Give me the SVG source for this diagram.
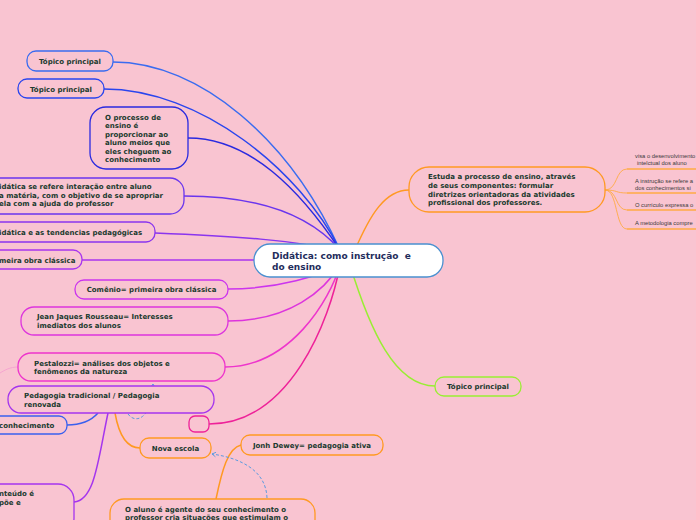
<svg xmlns="http://www.w3.org/2000/svg" width="696" height="520" viewBox="0 0 696 520">
<defs>
<marker id="arr" viewBox="0 0 8 8" refX="6" refY="4" markerWidth="6" markerHeight="6" orient="auto-start-reverse" markerUnits="userSpaceOnUse"><path d="M1,1 L6,4 L1,7" fill="none" stroke="#5a9ae0" stroke-width="1.2"/></marker>
</defs>
<style>
.bg{fill:#f9c4d1}
.n{fill:#f9c4d1;stroke-width:1.3}
.t{font-family:"DejaVu Sans",Verdana,sans-serif;font-weight:bold;font-size:7px;fill:#203a2e}
.c{text-anchor:middle}
.s{font-family:"Liberation Sans",Arial,sans-serif;font-size:5.8px;fill:#3a3a3a}
.l{fill:none;stroke-width:1.5}
.tl{fill:none;stroke-width:0.9}
.d{fill:none;stroke:#5a9ae0;stroke-width:1;stroke-dasharray:3 2}
</style>
<rect class="bg" x="0" y="0" width="696" height="520"/>
<g id="connectors">
<path class="l" stroke="#3a6cf0" d="M113,62 C200,62 290,140 340,250"/>
<path class="l" stroke="#2a45ee" d="M104,89 C200,89 300,170 340,250"/>
<path class="l" stroke="#2a2ae0" d="M188,138 C250,138 300,190 340,250"/>
<path class="l" stroke="#6a35ee" d="M184,196 C260,196 310,215 340,250"/>
<path class="l" stroke="#8a35ee" d="M155,233 C230,236 300,240 340,252"/>
<path class="l" stroke="#a835ee" d="M82,260 L260,260"/>
<path class="l" stroke="#cc35ee" d="M228,289 C280,289 320,275 340,265"/>
<path class="l" stroke="#dd35dd" d="M228,321 C290,321 325,290 340,265"/>
<path class="l" stroke="#ee35cc" d="M225,367 C290,367 330,300 340,265"/>
<path class="l" stroke="#ee2299" d="M209,424 C290,424 330,320 340,265"/>
<path class="l" stroke="#ff9922" d="M355,250 C370,215 385,190 409,190"/>
<path class="l" stroke="#99ee33" d="M350,265 C370,330 395,386 435,386"/>
<path class="tl" stroke="#ffaa44" d="M605,190 C618,190 615,169 627,169"/>
<path class="tl" stroke="#ffaa44" d="M605,190 C618,190 615,193 627,193"/>
<path class="tl" stroke="#ffaa44" d="M605,190 C618,190 615,210 627,210"/>
<path class="tl" stroke="#ffaa44" d="M605,190 C618,190 615,229 627,229"/>
<path class="l" stroke="#ffaa44" stroke-width="1.2" d="M627,169 H696 M627,193 H696 M627,210 H696 M627,229 H696"/>
<path class="tl" stroke="#f5a0d0" d="M18,367 C10,367 5,370 0,373"/>
<path class="l" stroke="#a535ee" d="M108,413 C98,460 95,500 74,502"/>
<path class="l" stroke="#3a60ee" d="M98,413 C90,422 80,425 67,425"/>
<path class="l" stroke="#ff9922" stroke-width="1.2" d="M115,413 C118,430 125,448 140,448"/>
<path class="l" stroke="#ff9922" stroke-width="1.2" d="M216,499 C222,470 228,448 241,445"/>
<path class="d" d="M128,414 C135,424 152,420 153,384" marker-end="url(#arr)"/>
<path class="d" d="M267,498 C266,470 240,458 212,454" marker-end="url(#arr)"/>
</g>
<g id="central">
<rect x="254" y="244" width="189" height="33" rx="16" fill="#fff" stroke="#4a90d0" stroke-width="1.3"/>
<text x="272" y="259" font-family="DejaVu Sans,Verdana,sans-serif" font-weight="bold" font-size="9" fill="#1f2d5c" style="white-space:pre">Didática: como instrução  e</text>
<text x="272" y="270" font-family="DejaVu Sans,Verdana,sans-serif" font-weight="bold" font-size="9" fill="#1f2d5c">do ensino</text>
</g>
<g id="n1"><rect class="n" x="27" y="51" width="86" height="20" rx="9" stroke="#3a6cf0"/><text class="t c" x="70" y="64">Tópico principal</text></g>
<g id="n2"><rect class="n" x="18" y="79" width="86" height="19" rx="9" stroke="#2a45ee"/><text class="t c" x="61" y="91.5">Tópico principal</text></g>
<g id="n3"><rect class="n" x="90" y="107" width="98" height="62" rx="16" stroke="#2a2ae0"/>
<text class="t" x="105" y="120">O processo de</text><text class="t" x="105" y="128.4">ensino é</text><text class="t" x="105" y="136.8">proporcionar ao</text><text class="t" x="105" y="145.2">aluno meios que</text><text class="t" x="105" y="153.6">eles cheguem ao</text><text class="t" x="105" y="162">conhecimento</text></g>
<g id="n4"><rect class="n" x="-20" y="178" width="204" height="36" rx="14" stroke="#6a35ee"/>
<text class="t" x="-1" y="189">idática se refere interação entre aluno</text><text class="t" x="-1" y="197.5">a matéria, com o objetivo de se apropriar</text><text class="t" x="-1" y="206">ela com a ajuda do professor</text></g>
<g id="n5"><rect class="n" x="-20" y="222" width="175" height="20" rx="9" stroke="#8a35ee"/><text class="t" x="-1" y="234.5">idática e as tendencias pedagógicas</text></g>
<g id="n6"><rect class="n" x="-20" y="250" width="102" height="19" rx="9" stroke="#a835ee"/><text class="t" x="-1" y="262.5">meira obra clássica</text></g>
<g id="n7"><rect class="n" x="75" y="280" width="153" height="19" rx="9" stroke="#cc35ee"/><text class="t c" x="151.5" y="292">Comênio= primeira obra clássica</text></g>
<g id="n8"><rect class="n" x="21" y="307" width="207" height="28" rx="13" stroke="#dd35dd"/>
<text class="t" x="37" y="319">Jean Jaques Rousseau= Interesses</text><text class="t" x="37" y="327.5">imediatos dos alunos</text></g>
<g id="n9"><rect class="n" x="18" y="353" width="207" height="28" rx="13" stroke="#ee35cc"/>
<text class="t" x="34" y="365.5">Pestalozzi= análises dos objetos e</text><text class="t" x="34" y="374">fenômenos da natureza</text></g>
<g id="n10"><rect class="n" x="8" y="386" width="206" height="27" rx="13" stroke="#a535ee"/>
<text class="t" x="24" y="398">Pedagogia tradicional / Pedagogia</text><text class="t" x="24" y="406.5">renovada</text></g>
<g id="n11"><rect class="n" x="189" y="416" width="20" height="16" rx="6" stroke="#ee2299"/></g>
<g id="n12"><rect class="n" x="-20" y="416" width="87" height="18" rx="8" stroke="#3a60ee"/><text class="t" x="-1" y="427.5">conhecimento</text></g>
<g id="n13"><rect class="n" x="-20" y="484" width="94" height="50" rx="16" stroke="#a535ee"/>
<text class="t" x="-1" y="496">nteúdo é</text><text class="t" x="-1" y="505">põe e</text></g>
<g id="n14"><rect class="n" x="140" y="438" width="71" height="20" rx="9" stroke="#ff9922"/><text class="t c" x="175.5" y="450.5">Nova escola</text></g>
<g id="n15"><rect class="n" x="241" y="435" width="142" height="20" rx="9" stroke="#ff9922"/><text class="t c" x="312" y="447.5">Jonh Dewey= pedagogia ativa</text></g>
<g id="n16"><rect class="n" x="110" y="499" width="205" height="40" rx="14" stroke="#ff9922"/>
<text class="t" x="125" y="512">O aluno é agente do seu conhecimento o</text><text class="t" x="125" y="519.5">professor cria situações que estimulam o</text></g>
<g id="n17"><rect class="n" x="409" y="167" width="196" height="45" rx="20" stroke="#ff9922"/>
<text class="t" x="428" y="179">Estuda a processo de ensino, através</text><text class="t" x="428" y="187.5">de seus componentes: formular</text><text class="t" x="428" y="196.5">diretrizes orientadoras da atividades</text><text class="t" x="428" y="205">profissional dos professores.</text></g>
<g id="n18"><rect class="n" x="435" y="377" width="86" height="19" rx="9" stroke="#99ee33"/><text class="t c" x="478" y="389">Tópico principal</text></g>
<g id="r1"><text class="s" x="635" y="158">visa o desenvolvimento f</text><text class="s" x="637" y="165">intelctual dos aluno</text></g>
<g id="r2"><text class="s" x="635" y="183">A instrução se refere a</text><text class="s" x="635" y="189.5">dos conhecimentos si</text></g>
<g id="r3"><text class="s" x="635" y="206.5">O currículo expressa o</text></g>
<g id="r4"><text class="s" x="635" y="224.5">A metodologia compre</text></g>
</svg>
